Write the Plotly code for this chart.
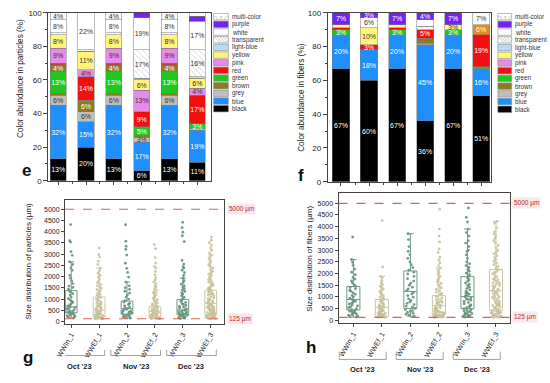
import plotly.graph_objects as go

W, H = 550, 383

samples = ["WWIn_1", "WWEf_1", "WWIn_2", "WWEf_2", "WWIn_3", "WWEf_3"]
months = ["Oct '23", "Nov '23", "Dec '23"]
legend_names = ["multi-color", "purple", "white", "transparent", "light-blue", "yellow",
                "pink", "red", "green", "brown", "grey", "blue", "black"]

# ---------- (e) colour abundance in particles (%) ----------
p_black = [13, 20, 13, 6, 13, 11]
p_blue = [32, 15, 32, 17, 32, 19]
p_grey = [6, 6, 6, 3, 6, 1]
p_brown = [1, 6, 1, 1, 1, 0]
p_green = [13, 1, 13, 5, 13, 3]
p_brown_upper = [4, 0, 4, 0, 4, 0]
p_red = [1, 14, 1, 9, 1, 17]
p_pink = [9, 4, 9, 13, 9, 4]
p_yellow = [8, 11, 8, 6, 8, 6]
p_lightblue = [0, 0, 0, 1, 0, 1]
p_transparent = [1, 1, 1, 17, 1, 16]
p_white = [8, 22, 8, 19, 8, 17]
p_purple = [0, 0, 0, 3, 0, 3]
p_multi = [4, 0, 4, 0, 4, 2]

# ---------- (f) colour abundance in fibers (%) ----------
f_black = [67, 60, 67, 36, 67, 51]
f_blue = [20, 18, 20, 45, 20, 16]
f_grey = [0, 0, 0, 1, 0, 0]
f_brown = [0, 0, 0, 3, 0, 0]
f_green = [3, 0, 3, 0, 3, 1]
f_red = [1, 3, 1, 5, 0, 19]
f_brown_upper = [0, 0, 0, 0, 0, 6]
f_pink = [0, 0, 0, 0, 0, 0]
f_yellow = [2, 10, 2, 0, 3, 0]
f_lightblue = [0, 0, 0, 0, 0, 0]
f_transparent = [0, 0, 0, 2, 0, 0]
f_white = [0, 6, 0, 4, 0, 0]
f_purple = [7, 3, 7, 4, 7, 0]
f_multi = [0, 0, 0, 0, 0, 7]

# ---------- (g) size distribution of particles (um) ----------
g_in1 = [4320, 3600, 3540, 3110, 2950, 2660, 2540, 2390, 2280, 2060, 1930, 1810, 1690, 1580, 1520,
         1440, 1370, 1310, 1240, 1180, 1090, 1020, 960, 905, 850, 790, 745, 700, 665, 630, 590, 550,
         515, 480, 450, 420, 395, 370, 345, 310, 285, 260, 230, 195, 160]
g_ef1 = [3280, 2980, 2870, 2690, 2540, 2380, 2270, 2150, 2060, 1980, 1890, 1810, 1730, 1660, 1590,
         1540, 1480, 1420, 1370, 1320, 1260, 1210, 1170, 1120, 1080, 1040, 990, 950, 910, 880, 840,
         805, 770, 740, 705, 680, 650, 620, 590, 565, 540, 515, 490, 470, 450, 425, 405, 385, 365,
         345, 330, 310, 295, 280, 265, 250, 238, 224, 212, 200, 188, 176, 165, 155, 146, 138, 131,
         128, 140, 152]
g_in2 = [4310, 3580, 3350, 3210, 2960, 2600, 2370, 2190, 1980, 1760, 1590, 1510, 1430, 1350, 1270,
         1180, 1090, 1000, 930, 870, 810, 760, 700, 650, 610, 580, 545, 510, 480, 450, 420, 390, 360,
         330, 300, 270, 240, 210, 180, 150]
g_ef2 = [3430, 3250, 2850, 2600, 2450, 2380, 2230, 2080, 1960, 1850, 1760, 1690, 1600, 1540, 1470,
         1400, 1340, 1290, 1230, 1180, 1120, 1070, 1020, 970, 920, 870, 830, 790, 750, 710, 680, 650,
         620, 590, 560, 535, 510, 485, 465, 445, 425, 405, 385, 365, 345, 330, 315, 300, 285, 270,
         255, 242, 230, 218, 206, 195, 184, 173, 163, 154, 146, 139, 133, 128, 150]
g_in3 = [4420, 4180, 3980, 3820, 3560, 2720, 2560, 2440, 2380, 2290, 2180, 2050, 1930, 1820, 1740,
         1660, 1590, 1520, 1460, 1400, 1340, 1280, 1220, 1150, 1080, 1010, 950, 900, 850, 800, 760,
         720, 680, 640, 600, 565, 530, 500, 470, 445, 420, 395, 370, 350, 330, 310, 290, 270, 250,
         230, 210, 190, 170, 150, 135]
g_ef3 = [3760, 3620, 3510, 3400, 3280, 3170, 3050, 2960, 2870, 2780, 2690, 2600, 2520, 2450, 2380,
         2310, 2240, 2170, 2110, 2050, 1990, 1930, 1870, 1820, 1770, 1720, 1670, 1620, 1580, 1540,
         1500, 1460, 1420, 1380, 1340, 1300, 1260, 1220, 1180, 1140, 1100, 1060, 1020, 985, 950, 915,
         880, 845, 810, 780, 750, 720, 690, 660, 630, 600, 575, 550, 525, 500, 475, 450, 430, 410,
         390, 370, 350, 330, 315, 300, 285, 270, 255, 240, 228, 216, 204, 192, 180, 170, 160, 150,
         142, 135, 130, 420, 560, 880, 1230, 640]
g_q1 = [390, 220, 330, 230, 300, 300]
g_med = [650, 500, 580, 445, 520, 810]
g_q3 = [1380, 1090, 910, 660, 985, 1390]
g_lo = [160, 128, 150, 128, 135, 130]
g_hi = [2660, 2380, 1760, 1290, 1930, 2960]

# ---------- (h) size distribution of fibers (um) ----------
h_in1 = [3560, 2600, 2480, 2350, 2190, 2060, 1950, 1840, 1760, 1690, 1610, 1530, 1460, 1400, 1350,
         1290, 1240, 1180, 1120, 1060, 1000, 950, 900, 860, 820, 780, 740, 700, 660, 620, 580, 540,
         500, 460, 430, 400, 370, 340, 310, 280, 250, 220, 190, 160, 140]
h_ef1 = [4260, 2280, 1880, 1820, 1700, 1600, 1530, 1460, 1400, 1340, 1280, 1220, 1160, 1100, 1050,
         1000, 950, 900, 860, 820, 780, 740, 700, 670, 640, 610, 580, 555, 530, 505, 480, 455, 430,
         410, 390, 370, 350, 330, 310, 290, 270, 255, 240, 225, 210, 195, 180, 168, 158, 148, 140,
         133, 128, 300, 600]
h_in2 = [3700, 3450, 3150, 2950, 2800, 2650, 2500, 2380, 2250, 2140, 2060, 1980, 1880, 1780, 1680,
         1590, 1500, 1420, 1340, 1270, 1200, 1130, 1060, 990, 920, 850, 790, 730, 670, 610, 560, 510,
         460, 420, 380, 340, 300, 260, 220, 180]
h_ef2 = [4750, 3900, 3600, 3350, 3050, 2900, 2700, 2580, 2460, 2340, 2240, 2140, 2050, 1960, 1880,
         1800, 1720, 1650, 1580, 1510, 1450, 1390, 1330, 1270, 1210, 1150, 1100, 1050, 1000, 960, 920,
         880, 840, 800, 765, 730, 695, 660, 630, 600, 570, 540, 510, 485, 460, 435, 410, 390, 370,
         350, 330, 310, 295, 280, 265, 250, 236, 222, 210, 198, 186, 175, 165, 156, 148, 141, 135,
         130, 127, 160, 220, 340, 520, 780, 1120]
h_in3 = [4800, 4400, 4200, 3900, 3750, 3600, 3400, 3300, 3150, 3000, 2950, 2800, 2650, 2500, 2420,
         2340, 2260, 2180, 2100, 2020, 1950, 1880, 1810, 1740, 1670, 1600, 1540, 1480, 1420, 1360,
         1300, 1240, 1180, 1120, 1060, 1010, 960, 910, 860, 810, 760, 710, 660, 620, 580, 540, 505,
         470, 440, 410, 380, 350, 320, 295, 270, 245, 220, 200, 180, 165, 150, 140, 1030, 1150, 900]
h_ef3 = [4230, 4150, 3950, 3800, 3700, 3600, 3500, 3400, 3300, 3200, 3100, 3000, 2920, 2840, 2760,
         2680, 2600, 2520, 2450, 2380, 2310, 2240, 2170, 2100, 2040, 1980, 1920, 1860, 1800, 1740,
         1690, 1640, 1590, 1540, 1490, 1440, 1390, 1340, 1290, 1250, 1210, 1170, 1130, 1090, 1050,
         1010, 970, 930, 890, 850, 810, 780, 750, 720, 690, 660, 630, 600, 570, 540, 510, 480, 455,
         430, 405, 380, 360, 340, 320, 300, 280, 260, 240, 220, 200, 185, 170, 155, 145, 135, 128,
         1330, 1470, 1610, 1760, 2050, 1200, 980, 640, 350]
h_q1 = [444, 167, 514, 265, 501, 432]
h_med = [889, 556, 1236, 640, 1017, 1267]
h_q3 = [1444, 889, 2111, 1058, 1866, 2172]
h_lo = [140, 128, 180, 127, 140, 128]
h_hi = [2600, 1880, 3700, 2240, 3900, 4230]

size_limits = [125, 5000]

# ---------------------------------------------------------------
FONT = "Liberation Sans, Arial, sans-serif"
COL = {
    "black": "#000000", "blue": "#1f8fff", "grey": "#bebebe", "brown": "#8c7b22",
    "green": "#1ec81e", "red": "#f01010", "pink": "#e88ae8", "yellow": "#fff57a",
    "light-blue": "#b7dcf5", "transparent": "#ffffff", "white": "#ffffff",
    "purple": "#7424f0", "multi-color": "#ffffff",
}
TXT = {"black": "white", "blue": "white", "grey": "#333", "brown": "white", "green": "white",
       "red": "white", "pink": "#333", "yellow": "#333", "light-blue": "#333",
       "transparent": "#333", "white": "#333", "purple": "white", "multi-color": "#333"}

def px_x(p):
    return p / W

def px_y(p):
    return 1 - p / H

fig = go.Figure()

def add_stack(series, xa, ya, width, quiet=()):
    pos = list(range(1, len(samples) + 1))
    for name, vals, color in series:
        pattern = None
        if name == "transparent":
            pattern = dict(shape="\\", fgcolor="#9a9a9a", bgcolor="white", size=4, solidity=0.2)
        elif name == "multi-color":
            pattern = dict(shape="+", fgcolor="#b5b5b5", bgcolor="white", size=4, solidity=0.15)
        marker = dict(color=color, line=dict(color="#7a7a7a", width=0.5))
        if pattern:
            marker["pattern"] = pattern
        lim = 5 if name in quiet else 3
        fig.add_trace(go.Bar(
            x=pos, y=vals, width=width, marker=marker,
            text=[f"{v}%" if v >= lim else "" for v in vals],
            textposition="inside", insidetextanchor="middle", constraintext="none",
            textangle=0, textfont=dict(size=7, color=TXT.get(name, "#333"), family=FONT),
            xaxis=xa, yaxis=ya, showlegend=False, hoverinfo="skip"))

e_series = [("black", p_black, COL["black"]), ("blue", p_blue, COL["blue"]),
            ("grey", p_grey, COL["grey"]), ("brown", p_brown, COL["brown"]),
            ("green", p_green, COL["green"]), ("brown", p_brown_upper, COL["brown"]),
            ("red", p_red, COL["red"]), ("pink", p_pink, COL["pink"]),
            ("yellow", p_yellow, COL["yellow"]), ("light-blue", p_lightblue, COL["light-blue"]),
            ("transparent", p_transparent, COL["transparent"]), ("white", p_white, COL["white"]),
            ("purple", p_purple, COL["purple"]), ("multi-color", p_multi, COL["multi-color"])]
f_series = [("black", f_black, COL["black"]), ("blue", f_blue, COL["blue"]),
            ("grey", f_grey, COL["grey"]), ("brown", f_brown, COL["brown"]),
            ("green", f_green, COL["green"]), ("red", f_red, COL["red"]),
            ("brown", f_brown_upper, "#e88a1a"),
            ("pink", f_pink, COL["pink"]), ("yellow", f_yellow, COL["yellow"]),
            ("light-blue", f_lightblue, COL["light-blue"]),
            ("transparent", f_transparent, COL["transparent"]), ("white", f_white, COL["white"]),
            ("purple", f_purple, COL["purple"]), ("multi-color", f_multi, COL["multi-color"])]
add_stack(e_series, "x", "y", 0.58, quiet=("purple",))
add_stack(f_series, "x2", "y2", 0.61, quiet=("white", "brown"))

IN_PT, EF_PT = "rgba(92,138,115,0.85)", "rgba(196,190,150,0.85)"
IN_LN, EF_LN = "#6d9a84", "#cdc6a4"

def add_boxes(groups, q1, med, q3, lo, hi, xa, ya, bw):
    for k, (ptc, lnc) in enumerate([(IN_PT, IN_LN), (EF_PT, EF_LN)]):
        idx = [k, k + 2, k + 4]
        xs, ys = [], []
        for i in idx:
            xs += [samples[i]] * len(groups[i])
            ys += groups[i]
        fig.add_trace(go.Box(
            x=xs, y=ys, boxpoints="all", jitter=0.85, pointpos=0, width=bw,
            fillcolor="rgba(0,0,0,0)", line=dict(width=0, color="rgba(0,0,0,0)"),
            marker=dict(size=2.8, color=ptc), xaxis=xa, yaxis=ya,
            showlegend=False, hoverinfo="skip"))
        fig.add_trace(go.Box(
            x=[samples[i] for i in idx], q1=[q1[i] for i in idx], median=[med[i] for i in idx],
            q3=[q3[i] for i in idx], lowerfence=[lo[i] for i in idx],
            upperfence=[hi[i] for i in idx], width=bw, boxpoints=False,
            fillcolor="rgba(0,0,0,0)", line=dict(width=1, color=lnc),
            xaxis=xa, yaxis=ya, showlegend=False, hoverinfo="skip"))

add_boxes([g_in1, g_ef1, g_in2, g_ef2, g_in3, g_ef3], g_q1, g_med, g_q3, g_lo, g_hi, "x3", "y3", 0.42)
add_boxes([h_in1, h_ef1, h_in2, h_ef2, h_in3, h_ef3], h_q1, h_med, h_q3, h_lo, h_hi, "x4", "y4", 0.46)

AX = dict(showline=True, linecolor="#444", linewidth=1, mirror=True, showgrid=False,
          zeroline=False, ticks="outside", tickcolor="#444", ticklen=3,
          tickfont=dict(size=8, family=FONT, color="#222"))

bar_x = dict(AX, tickmode="linear", tick0=1, dtick=1, showticklabels=False,
             minor=dict(dtick=0.5, tick0=0.5, ticks="outside", ticklen=2, tickcolor="#444"))
bar_y = dict(AX, range=[0, 100], tickmode="linear", tick0=0, dtick=20, ticklen=4,
             minor=dict(dtick=10, ticks="outside", ticklen=2, tickcolor="#444"))
size_x = dict(AX, type="category", categoryorder="array", categoryarray=samples,
              tickangle=-60, tickfont=dict(size=7, family=FONT, color="#222"))
size_y = dict(AX, tickmode="linear", tick0=0, dtick=500,
              tickfont=dict(size=7, family=FONT, color="#222"))

fig.update_layout(
    width=W, height=H, margin=dict(l=0, r=0, t=0, b=0),
    paper_bgcolor="white", plot_bgcolor="white",
    barmode="stack", boxmode="overlay", showlegend=False,
    font=dict(family=FONT, size=8, color="#222"),
    xaxis=dict(bar_x, domain=[px_x(40), px_x(205)], range=[0.647, 6.477], anchor="y"),
    yaxis=dict(bar_y, domain=[px_y(181), px_y(9)], anchor="x"),
    xaxis2=dict(bar_x, domain=[px_x(324), px_x(490)], range=[0.526, 6.35], anchor="y2"),
    yaxis2=dict(bar_y, domain=[px_y(182), px_y(9)], anchor="x2"),
    xaxis3=dict(size_x, domain=[px_x(57), px_x(219)], range=[-0.22, 5.49], anchor="y3"),
    yaxis3=dict(size_y, domain=[px_y(327.5), px_y(201)], range=[-100, 5400], anchor="x3"),
    xaxis4=dict(size_x, domain=[px_x(335), px_x(509)], range=[-0.52, 5.48], anchor="y4"),
    yaxis4=dict(size_y, domain=[px_y(327), px_y(194)], range=[-125, 5420], anchor="x4"),
)

shapes, annos = [], []

def legend(x0, y0, pitch, sw_w, sw_h):
    for i, name in enumerate(legend_names):
        yc = y0 + i * pitch
        yt, yb = yc - sw_h / 2, yc + sw_h / 2
        shapes.append(dict(type="rect", xref="paper", yref="paper",
                           x0=px_x(x0), x1=px_x(x0 + sw_w), y0=px_y(yb), y1=px_y(yt),
                           fillcolor=COL[name], line=dict(color="#8a8a8a", width=0.6)))
        if name == "transparent":
            for o in range(0, int(sw_w), 3):
                xe = min(x0 + o + sw_h, x0 + sw_w)
                shapes.append(dict(type="line", xref="paper", yref="paper",
                                   x0=px_x(x0 + o), x1=px_x(xe), y0=px_y(yt),
                                   y1=px_y(yt + (xe - x0 - o)),
                                   line=dict(color="#a0a0a0", width=0.6)))
        if name == "multi-color":
            for o in (3.5, 7.5, 11.5):
                shapes.append(dict(type="line", xref="paper", yref="paper",
                                   x0=px_x(x0 + o), x1=px_x(x0 + o), y0=px_y(yb), y1=px_y(yt),
                                   line=dict(color="#b0b0b0", width=0.6, dash="dot")))
            shapes.append(dict(type="line", xref="paper", yref="paper",
                               x0=px_x(x0), x1=px_x(x0 + sw_w), y0=px_y(yc), y1=px_y(yc),
                               line=dict(color="#b0b0b0", width=0.6, dash="dot")))
        annos.append(dict(text=name, xref="paper", yref="paper", x=px_x(x0 + sw_w + 1.5),
                          y=px_y(yc), xanchor="left", yanchor="middle", showarrow=False,
                          font=dict(size=6.3, family=FONT, color="#333")))

legend(208, 13, 7.85, 15, 6.6)
legend(497, 13, 7.9, 14, 6.6)

for txt, x, y, s in [("Color abundance in particles (%)", 11, 76, 8.2),
                     ("Color abundance in fibers (%)", 298, 96, 8.2),
                     ("Size distribution of particles (µm)", 20, 263, 8),
                     ("Size distribution of fibers (µm)", 306, 261, 8)]:
    annos.append(dict(text=txt, xref="paper", yref="paper", x=px_x(x), y=px_y(y),
                      textangle=-90, showarrow=False, xanchor="center", yanchor="middle",
                      font=dict(size=s, family=FONT, color="#222")))

for txt, x, y in [("e", 18, 170), ("f", 297, 176), ("g", 19, 362), ("h", 307, 352)]:
    annos.append(dict(text=f"<b>{txt}</b>", xref="paper", yref="paper", x=px_x(x), y=px_y(y),
                      showarrow=False, xanchor="center", yanchor="middle",
                      font=dict(size=17, family=FONT, color="#111")))

for xa, ya in [("x3", "y3"), ("x4", "y4")]:
    for lim in size_limits:
        shapes.append(dict(type="line", xref=f"{xa} domain", yref=ya, x0=0, x1=1, y0=lim, y1=lim,
                           line=dict(color="#d9654f", width=1.2, dash="dash")))
        annos.append(dict(text=f"{lim} µm", xref=f"{xa} domain", yref=ya, x=1.015, y=lim,
                          xanchor="left", yanchor="middle", showarrow=False,
                          bgcolor="#fce6ee", font=dict(size=6.5, family=FONT, color="#b0301c")))

def brackets(xa, ytop, ybot, ytext, a, b):
    for m, label in enumerate(months):
        x0, x1 = 2 * m + a, 2 * m + 1 + b
        for (xx0, yy0, xx1, yy1) in [(x0, ytop, x0, ybot), (x0, ybot, x1, ybot), (x1, ybot, x1, ytop)]:
            shapes.append(dict(type="line", xref=xa, yref="paper", x0=xx0, x1=xx1,
                               y0=px_y(yy0), y1=px_y(yy1), line=dict(color="#8a8a8a", width=0.8)))
        annos.append(dict(text=f"<b>{label}</b>", xref=xa, yref="paper", x=(x0 + x1) / 2,
                          y=px_y(ytext), showarrow=False, xanchor="center", yanchor="middle",
                          font=dict(size=7.5, family=FONT, color="#222")))

brackets("x3", 354, 360, 371, -0.58, 0.2)
brackets("x4", 356, 364, 374, -0.5, 0.15)

fig.update_layout(shapes=shapes, annotations=annos)
fig.write_html("out.html", config={"displayModeBar": False},
               post_script="document.body.style.margin='0';document.body.style.padding='0';")
